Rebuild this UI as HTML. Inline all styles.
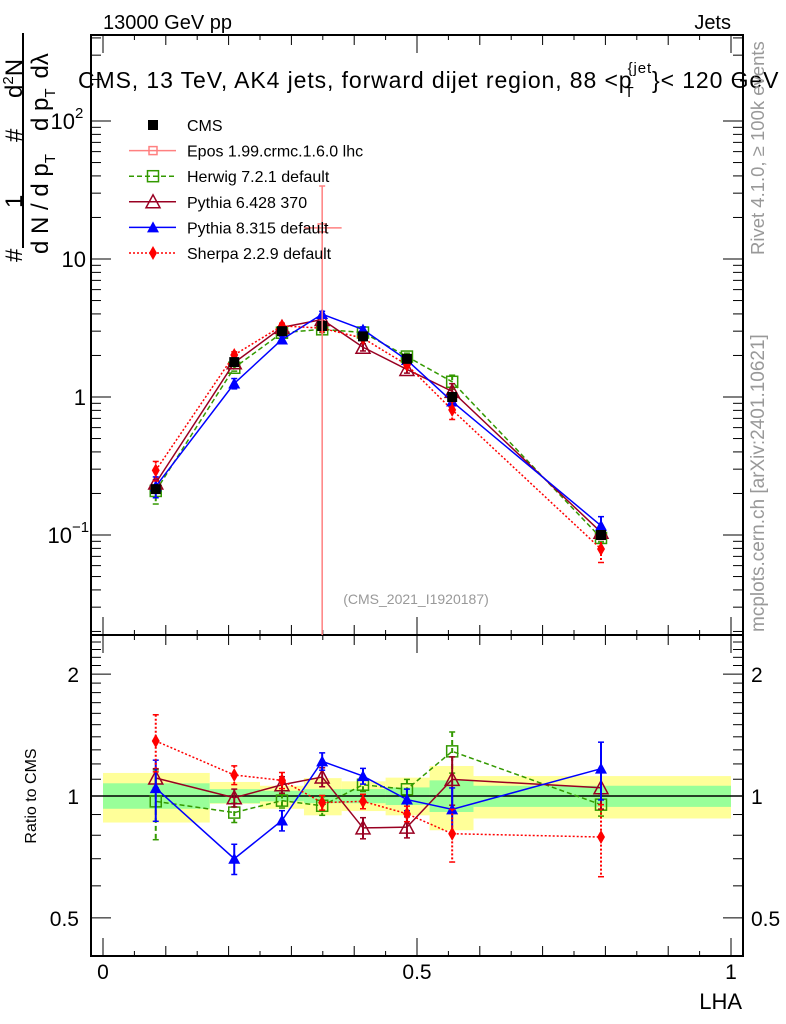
<!DOCTYPE html>
<html><head><meta charset="utf-8"><style>
html,body{margin:0;padding:0;background:#fff;}
svg{display:block;font-family:"Liberation Sans",sans-serif;}
</style></head><body>
<svg id="chart" width="786" height="1024" viewBox="0 0 786 1024" xmlns="http://www.w3.org/2000/svg">
<g id="bands"></g>
<g id="grid"></g>
<g id="series"></g>
<g id="legend"></g>
<text x="103" y="29" font-size="20">13000 GeV pp</text>
<text x="731" y="29" font-size="20" text-anchor="end">Jets</text>
<text x="78" y="88" font-size="23" letter-spacing="0.9">CMS, 13 TeV, AK4 jets, forward dijet region, 88 &lt;p<tspan font-size="15" dx="-8" dy="9">T</tspan><tspan font-size="15" dx="-7" dy="-24">{jet</tspan><tspan dy="15">}&lt; 120 GeV</tspan></text>
<text x="416" y="604" font-size="14" fill="#999" text-anchor="middle">(CMS_2021_I1920187)</text>
<text transform="translate(764,255) rotate(-90)" font-size="18.5" fill="#999">Rivet 4.1.0, ≥ 100k events</text>
<text transform="translate(764,632) rotate(-90)" font-size="19" fill="#999">mcplots.cern.ch [arXiv:2401.10621]</text>
<g font-size="24">
<line x1="23" y1="33" x2="23" y2="248" stroke="#000" stroke-width="2"/>
<text transform="translate(22,262) rotate(-90)">#</text>
<text transform="translate(22,208) rotate(-90)">1</text>
<text transform="translate(22,142) rotate(-90)">#</text>
<text transform="translate(22,98) rotate(-90)">d<tspan font-size="15" dy="-9">2</tspan><tspan dy="9">N</tspan></text>
<text transform="translate(48,254) rotate(-90)">d N / d p<tspan font-size="15" dy="7">T</tspan></text>
<text transform="translate(48,131) rotate(-90)">d p<tspan font-size="15" dy="7">T</tspan><tspan dy="-7" dx="10">dλ</tspan></text>
</g>
<text transform="translate(36,796) rotate(-90)" font-size="16" text-anchor="middle">Ratio to CMS</text>
<text x="742" y="1009" font-size="22" text-anchor="end">LHA</text>
</svg>
<script>
const xVals = [0.084,0.209,0.285,0.349,0.414,0.484,0.556,0.793];
const cmsVals = [0.215,1.79,3.0,3.27,2.75,1.89,1.0,0.10];
const herwigRatio = [0.97,0.91,0.974,0.946,1.066,1.039,1.289,0.952];
const herwigErr = [0.19,0.05,0.04,0.05,0.04,0.06,0.15,0.06];
const py6Ratio = [1.108,0.99,1.066,1.114,0.834,0.838,1.099,1.048];
const py6Err = [0.06,0.05,0.05,0.06,0.05,0.05,0.15,0.12];
const py8Ratio = [1.046,0.70,0.87,1.218,1.12,0.98,0.927,1.168];
const py8Err = [0.18,0.06,0.05,0.06,0.05,0.06,0.12,0.19];
const sherpaRatio = [1.367,1.127,1.093,0.963,0.97,0.904,0.807,0.792];
const sherpaErr = [0.22,0.06,0.05,0.04,0.04,0.04,0.12,0.16];
const eposX = [0.349];
const eposVal = [16.8];
const eposUp = [33.8];
const bandEdges = [0,0.17,0.25,0.32,0.38,0.45,0.52,0.59,1.0];
const yellowHi = [1.14,1.083,1.06,1.107,1.087,1.11,1.186,1.12];
const yellowLo = [0.86,0.957,0.93,0.896,0.918,0.896,0.823,0.88];
const greenHi = [1.075,1.04,1.03,1.04,1.04,1.05,1.093,1.06];
const greenLo = [0.93,0.96,0.97,0.96,0.96,0.95,0.913,0.94];
const xTickLabels = ["0","0.5","1"];
const ratioTickLabels = ["0.5","1","2"];

const NS="http://www.w3.org/2000/svg";
const L=91,Rt=743,T=35,MB=635,RB=956;
const X=v=>103+628*v;
const Y=v=>397-138*Math.log10(v);
const R=v=>796-405*Math.log10(v);
function mk(tag,parent,attrs){const e=document.createElementNS(NS,tag);for(const k in attrs)e.setAttribute(k,attrs[k]);parent.appendChild(e);return e;}
const gb=document.getElementById('bands'),gg=document.getElementById('grid'),gs=document.getElementById('series'),gl=document.getElementById('legend');

for(let i=0;i<bandEdges.length-1;i++){
  const x1=X(bandEdges[i]),x2=X(bandEdges[i+1]);
  const y=mk('rect',gb,{x:x1,y:R(yellowHi[i]),width:x2-x1,height:R(yellowLo[i])-R(yellowHi[i]),fill:'#ffff99'});
  
  
  const g=mk('rect',gb,{x:x1,y:R(greenHi[i]),width:x2-x1,height:R(greenLo[i])-R(greenHi[i]),fill:'#99ff99'});
  
  
}
const ul=mk('line',gg,{x1:L,x2:Rt,y1:R(1),y2:R(1),stroke:'#000','stroke-width':1.5});


const f1=mk('rect',gg,{x:L,y:T,width:Rt-L,height:MB-T,fill:'none',stroke:'#000','stroke-width':2});


const f2=mk('rect',gg,{x:L,y:MB,width:Rt-L,height:RB-MB,fill:'none',stroke:'#000','stroke-width':2});


for(let k=0;k<=20;k++){
  const v=k/20,x=X(v);
  const len=(k%10===0)?18:(k%2===0?10:5);
  for(const [y0,dir] of [[T,1],[MB,-1],[MB,1],[RB,-1]]){
    mk('line',gg,{x1:x,x2:x,y1:y0,y2:y0+dir*len,stroke:'#000','stroke-width':1});
  }
}
[0,0.5,1].forEach((v,i)=>{
  const t=mk('text',gg,{x:X(v),y:979,'font-size':21,'text-anchor':'middle'});
  t.textContent=xTickLabels[i];
  
  
});
for(let d=-2;d<=2;d++){
  for(let m=1;m<=9;m++){
    const v=m*Math.pow(10,d),y=Y(v);
    if(y<T||y>MB)continue;
    const len=m===1?20:10;
    mk('line',gg,{x1:L,x2:L+len,y1:y,y2:y,stroke:'#000','stroke-width':1});
    mk('line',gg,{x1:Rt,x2:Rt-len,y1:y,y2:y,stroke:'#000','stroke-width':1});
  }
}
const ylab=[[100,'10','2'],[10,'10',''],[1,'1',''],[0.1,'10','−1']];
ylab.forEach(([v,b,e])=>{
  const t=mk('text',gg,{x:e?(e.length>1?72:75):86,y:Y(v)+8,'font-size':22,'text-anchor':'end'});
  t.textContent=b;
  
  
  if(e){const s=mk('text',gg,{x:e.length>1?72:75,y:Y(v)-3,'font-size':15});s.textContent=e;}
});
[0.4,0.5,0.6,0.7,0.8,0.9,1,1.1,1.2,1.3,1.4,1.5,1.6,1.7,1.8,1.9,2,2.1,2.2,2.3,2.4].forEach(v=>{
  const y=R(v);if(y<MB||y>RB)return;
  const len=(v===0.5||v===1||v===2)?20:10;
  mk('line',gg,{x1:L,x2:L+len,y1:y,y2:y,stroke:'#000','stroke-width':1});
  mk('line',gg,{x1:Rt,x2:Rt-len,y1:y,y2:y,stroke:'#000','stroke-width':1});
});
[0.5,1,2].forEach((v,i)=>{
  const t=mk('text',gg,{x:79,y:R(v)+8,'font-size':21,'text-anchor':'end'});
  t.textContent=ratioTickLabels[i];
  
  
  const t2=mk('text',gg,{x:751,y:R(v)+8,'font-size':21});
  t2.textContent=ratioTickLabels[i];
  
  
});

function marker(g,type,x,y,col){
  if(type==='fsq')mk('rect',g,{x:x-5,y:y-5,width:10,height:10,fill:col});
  if(type==='osq')mk('rect',g,{x:x-5.5,y:y-5.5,width:11,height:11,fill:'none',stroke:col,'stroke-width':1.5});
  if(type==='otri')mk('polygon',g,{points:`${x},${y-7} ${x-7},${y+6} ${x+7},${y+6}`,fill:'none',stroke:col,'stroke-width':1.5});
  if(type==='ftri')mk('polygon',g,{points:`${x},${y-6} ${x-6},${y+5} ${x+6},${y+5}`,fill:col});
  if(type==='dia')mk('polygon',g,{points:`${x},${y-7} ${x-4},${y} ${x},${y+7} ${x+4},${y}`,fill:col});
  if(type==='cross')mk('rect',g,{x:x-4,y:y-4,width:8,height:8,fill:'none',stroke:col,'stroke-width':1.5});
}
const series=[
  {name:'herwig',r:herwigRatio,e:herwigErr,col:'#339900',dash:'5,3',m:'osq'},
  {name:'pythia6',r:py6Ratio,e:py6Err,col:'#990022',dash:'',m:'otri'},
  {name:'pythia8',r:py8Ratio,e:py8Err,col:'#0000ff',dash:'',m:'ftri'},
  {name:'sherpa',r:sherpaRatio,e:sherpaErr,col:'#ff0000',dash:'2,2',m:'dia'}
];
series.forEach(s=>{
  ['main','ratio'].forEach(panel=>{
    const g=mk('g',gs,{});
    
    
    const fy=panel==='main'?(i=>Y(cmsVals[i]*s.r[i])):(i=>R(s.r[i]));
    const fe=panel==='main'?((i,v)=>Y(cmsVals[i]*v)):((i,v)=>R(v));
    const pts=xVals.map((v,i)=>X(v)+','+fy(i)).join(' ');
    mk('polyline',g,{points:pts,fill:'none',stroke:s.col,'stroke-width':1.5,'stroke-dasharray':s.dash});
    xVals.forEach((v,i)=>{
      const x=X(v),y1=fe(i,s.r[i]+s.e[i]),y2=fe(i,s.r[i]-s.e[i]);
      mk('line',g,{x1:x,x2:x,y1:y1,y2:y2,stroke:s.col,'stroke-width':2,'stroke-dasharray':s.dash});
      mk('line',g,{x1:x-3,x2:x+3,y1:y1,y2:y1,stroke:s.col,'stroke-width':1.5});
      mk('line',g,{x1:x-3,x2:x+3,y1:y2,y2:y2,stroke:s.col,'stroke-width':1.5});
      marker(g,s.m,x,fy(i),s.col);
    });
  });
});
const gc=mk('g',gs,{});


xVals.forEach((v,i)=>{marker(gc,'fsq',X(v),Y(cmsVals[i]),'#000');});
const ge=mk('g',gs,{});


eposX.forEach((v,i)=>{
  const x=X(v);
  mk('line',ge,{x1:x,x2:x,y1:Y(eposUp[i]),y2:MB,stroke:'#ff8080','stroke-width':1.5});
  mk('line',ge,{x1:x-3,x2:x+3,y1:Y(eposUp[i]),y2:Y(eposUp[i]),stroke:'#ff8080','stroke-width':1.5});
  mk('line',ge,{x1:X(0.32),x2:X(0.38),y1:Y(eposVal[i]),y2:Y(eposVal[i]),stroke:'#ff8080','stroke-width':1.5});
  marker(ge,'cross',x,Y(eposVal[i]),'#ff8080');
});
const leg=[['CMS','#000','','fsq',false],['Epos 1.99.crmc.1.6.0 lhc','#ff8080','','cross',true],['Herwig 7.2.1 default','#339900','5,3','osq',true],['Pythia 6.428 370','#990022','','otri',true],['Pythia 8.315 default','#0000ff','','ftri',true],['Sherpa 2.2.9 default','#ff0000','2,2','dia',true]];
leg.forEach((e,i)=>{
  const y=125+25.6*i;
  const g=mk('g',gl,{});
  
  
  if(e[4])mk('line',g,{x1:129,x2:176,y1:y,y2:y,stroke:e[1],'stroke-width':1.5,'stroke-dasharray':e[2]});
  marker(g,e[3],153,y,e[1]);
  const t=mk('text',g,{x:187,y:y+6,'font-size':16});
  t.textContent=e[0];
});
</script>
</body></html>
